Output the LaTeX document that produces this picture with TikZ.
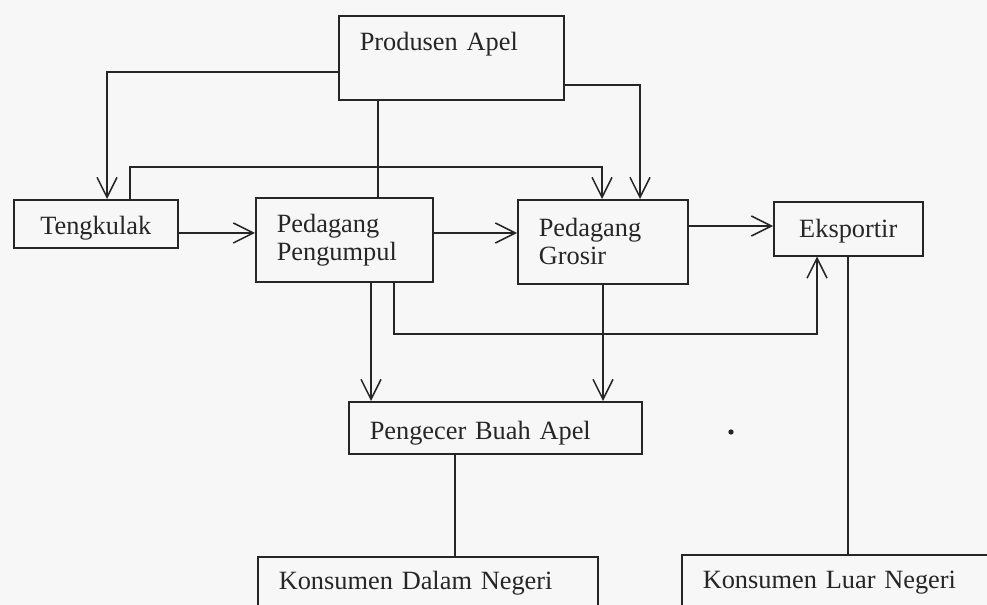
\documentclass[tikz,border=0pt]{standalone}
\usepackage{fontspec}
\setmainfont{Liberation Serif}
\usetikzlibrary{arrows.meta}

\begin{document}
\begin{tikzpicture}[x=0.3mm, y=-0.3mm, line width=1.3pt, draw=black!85,
    every node/.style={font=\fontsize{22.5}{24}\selectfont, text=black!85},
    box/.style={draw, rectangle, anchor=north west, inner ysep=0pt},
    lbox/.style={box, align=left, inner xsep=6.3mm},
    arr/.style={-{Straight Barb[length=6mm, width=6mm]}}]
    \useasboundingbox (0,0) rectangle (987,605);
    \clip (0,0) rectangle (987,605);
    \fill[gray!6] (0,0) rectangle (987,605);
    \node[lbox, text width=54.9mm, minimum height=25.2mm, text depth=10mm] (prod) at (338,15) {Produsen Apel};
    \node[box, minimum width=49.2mm, minimum height=14.4mm, text height=8.2mm] (tengk) at (13,199) {Tengkulak};
    \node[lbox, text width=40.5mm, minimum height=25.2mm] (pumpul) at (255,197) {Pedagang\\Pengumpul};
    \node[lbox, text width=38.4mm, minimum height=25.2mm] (grosir) at (517,199) {Pedagang\\Grosir};
    \node[box, minimum width=44.7mm, minimum height=16.2mm, text height=6.8mm] (ekspor) at (773,201) {Eksportir};
    \node[lbox, text width=75.3mm, minimum height=15.6mm, text height=8.6mm] (ecer) at (348,401) {Pengecer Buah Apel};
    \node[lbox, text width=89.4mm, minimum height=15.6mm] (dalam) at (257,556) {Konsumen Dalam Negeri};
    \node[lbox, text width=85.2mm, minimum height=16.8mm] (luar) at (681,554) {Konsumen Luar Negeri};
    \fill[black!85] (731,432) circle[radius=0.8mm];
        \draw[arr] (prod.west |- 0,72) -| (tengk.north -| 107,0);
        \draw (prod.south -| 378,0) -- (pumpul.north -| 378,0);
        \draw[arr] (prod.east |- 0,85) -| (grosir.north -| 640,0);
        \draw[arr] (tengk.north -| 130,0) -- (130,167) -| (grosir.north -| 602,0);
        \draw[arr] (tengk.east |- 0,233) -- (pumpul.west |- 0,233);
        \draw[arr] (pumpul.east |- 0,233) -- (grosir.west |- 0,233);
        \draw[arr] (grosir.east |- 0,226) -- (ekspor.west |- 0,226);
        \draw[arr] (pumpul.south -| 371,0) -- (ecer.north -| 371,0);
        \draw[arr] (pumpul.south -| 394,0) -- (394,334) -| (ekspor.south -| 817,0);
        \draw[arr] (grosir.south -| 603,0) -- (ecer.north -| 603,0);
        \draw (ecer.south -| 455,0) -- (dalam.north -| 455,0);
        \draw (ekspor.south -| 848,0) -- (luar.north -| 848,0);
\end{tikzpicture}
\end{document}
